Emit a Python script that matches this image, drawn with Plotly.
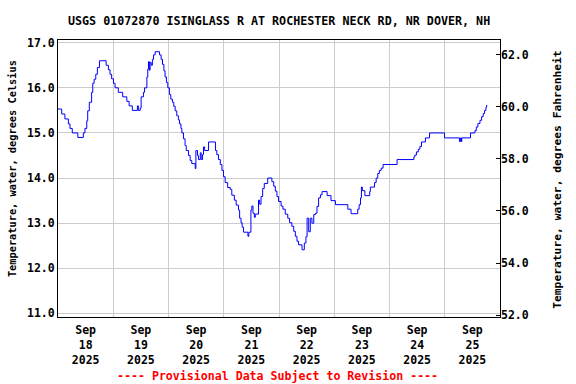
import pandas as pd
import plotly.graph_objects as go

# ---- data ----
start = pd.Timestamp("2025-09-18 00:00")
hours_since_start = [
    0.0, 1.6, 3.0, 4.5, 5.2, 6.2, 8.6, 11.0, 11.7, 12.5,
    12.9, 13.6, 14.6, 15.1, 15.7, 16.4, 17.1, 18.0, 20.9, 21.9,
    22.6, 23.3, 24.1, 24.8, 26.2, 28.1, 29.9, 30.9, 32.3, 34.5,
    34.9, 35.7, 36.1, 37.1, 37.6, 38.6, 39.0, 39.3, 39.7, 40.0,
    40.5, 41.0, 41.5, 42.2, 44.1, 44.8, 45.4, 46.0, 46.5, 47.1,
    47.7, 48.4, 49.0, 49.7, 50.3, 50.9, 51.6, 52.3, 52.8, 53.4,
    53.8, 54.5, 55.2, 55.7, 56.7, 57.4, 58.1, 59.6, 59.9, 60.6,
    61.0, 61.8, 62.2, 62.8, 63.2, 63.7, 65.4, 68.4, 69.0, 69.7,
    70.5, 71.2, 71.9, 72.6, 73.7, 74.8, 75.5, 76.6, 77.4, 78.4,
    78.9, 79.5, 80.0, 80.6, 82.5, 82.9, 83.8, 84.2, 84.7, 85.3,
    85.7, 87.1, 87.6, 88.2, 88.9, 89.6, 91.1, 92.9, 93.7, 94.4,
    95.1, 95.8, 96.9, 97.7, 98.7, 99.8, 100.6, 101.6, 102.4, 103.1,
    103.8, 104.5, 106.0, 107.0, 107.7, 108.2, 108.9, 109.6, 110.3, 111.1,
    111.8, 112.5, 113.2, 114.0, 114.7, 116.9, 118.6, 120.5, 125.9, 127.3,
    130.2, 130.8, 131.4, 131.8, 132.2, 133.3, 135.4, 135.7, 137.5, 138.2,
    138.9, 139.6, 140.4, 141.2, 147.3, 154.6, 155.0, 155.7, 156.5, 157.2,
    157.9, 159.6, 161.4, 167.9, 174.4, 174.9, 175.2, 175.4, 179.2, 181.1,
    181.7, 182.4, 183.3, 184.0, 184.7, 185.3, 185.9, 186.2,
]
temp_c = [
    15.53, 15.42, 15.31, 15.2, 15.1, 15.0, 14.9, 15.0, 15.1, 15.27,
    15.49, 15.68, 15.9, 16.1, 16.19, 16.3, 16.45, 16.6, 16.5, 16.4,
    16.3, 16.2, 16.1, 16.0, 15.9, 15.8, 15.7, 15.6, 15.5, 15.6,
    15.5, 15.55, 15.8, 15.9, 16.0, 16.24, 16.41, 16.58, 16.39, 16.56,
    16.5, 16.63, 16.73, 16.8, 16.73, 16.63, 16.52, 16.38, 16.24, 16.12,
    16.0, 15.85, 15.75, 15.68, 15.59, 15.49, 15.38, 15.29, 15.2, 15.1,
    15.0, 14.87, 14.72, 14.61, 14.5, 14.39, 14.32, 14.21, 14.61, 14.5,
    14.41, 14.56, 14.41, 14.52, 14.69, 14.61, 14.8, 14.61, 14.52, 14.41,
    14.3, 14.17, 14.03, 13.9, 13.79, 13.75, 13.62, 13.51, 13.4, 13.29,
    13.11, 13.01, 12.91, 12.8, 12.71, 12.8, 13.29, 13.38, 13.22, 13.13,
    13.2, 13.51, 13.42, 13.59, 13.77, 13.88, 14.0, 13.92, 13.82, 13.71,
    13.59, 13.48, 13.38, 13.31, 13.2, 13.11, 13.01, 12.93, 12.82, 12.71,
    12.6, 12.52, 12.41, 12.56, 12.7, 13.11, 12.81, 13.11, 13.0, 13.19,
    13.22, 13.37, 13.56, 13.63, 13.7, 13.61, 13.5, 13.41, 13.31, 13.21,
    13.31, 13.41, 13.56, 13.8, 13.72, 13.61, 13.7, 13.8, 13.9, 14.0,
    14.1, 14.17, 14.22, 14.3, 14.41, 14.47, 14.51, 14.58, 14.64, 14.7,
    14.8, 14.89, 15.0, 14.89, 14.81, 14.89, 14.81, 14.89, 15.0, 15.05,
    15.13, 15.21, 15.28, 15.36, 15.43, 15.5, 15.57, 15.62,
]

c_ticks = [11, 12, 13, 14, 15, 16, 17]
c_labels = ["11.0", "12.0", "13.0", "14.0", "15.0", "16.0", "17.0"]
f_ticks = [52, 54, 56, 58, 60, 62]
f_labels = ["52.0", "54.0", "56.0", "58.0", "60.0", "62.0"]
day_ticks = ["2025-09-18 12:00", "2025-09-19 12:00", "2025-09-20 12:00", "2025-09-21 12:00",
             "2025-09-22 12:00", "2025-09-23 12:00", "2025-09-24 12:00", "2025-09-25 12:00"]
day_labels = ["Sep<br>18<br>2025", "Sep<br>19<br>2025", "Sep<br>20<br>2025", "Sep<br>21<br>2025",
              "Sep<br>22<br>2025", "Sep<br>23<br>2025", "Sep<br>24<br>2025", "Sep<br>25<br>2025"]

title_text = "USGS 01072870 ISINGLASS R AT ROCHESTER NECK RD, NR DOVER, NH"
left_title = "Temperature, water, degrees Celsius"
right_title = "Temperature, water, degrees Fahrenheit"
footer_text = "---- Provisional Data Subject to Revision ----"

times = [start + pd.Timedelta(hours=h) for h in hours_since_start]
temp_f = [c * 1.8 + 32 for c in temp_c]

FONT = "DejaVu Sans Mono"
GRID = "#cccccc"

fig = go.Figure()
fig.add_trace(go.Scatter(x=times, y=temp_c, mode="lines",
                         line=dict(color="#0000ff", width=1, shape="hv"),
                         hoverinfo="skip", showlegend=False))
fig.add_trace(go.Scatter(x=times, y=temp_f, mode="lines", yaxis="y2",
                         line=dict(color="rgba(0,0,0,0)", width=0),
                         hoverinfo="skip", showlegend=False))

fig.update_layout(
    template="none",
    width=576, height=384,
    margin=dict(l=58, r=76, t=40, b=67),
    paper_bgcolor="white", plot_bgcolor="white",
    font=dict(family=FONT, size=11.5, color="black", weight="bold"),
    showlegend=False,
    xaxis=dict(
        type="date", automargin=False,
        range=["2025-09-18 00:00", "2025-09-26 00:00"],
        tickmode="array", tickvals=day_ticks, ticktext=day_labels,
        ticks="", showgrid=False, zeroline=False, ticklabelstandoff=2,
        showline=True, linecolor="black", linewidth=1, mirror=True,
        tickfont=dict(family=FONT, size=11.5, color="black", weight="bold"),
        minor=dict(dtick=86400000, tick0="2025-09-18", showgrid=True,
                   gridcolor=GRID, gridwidth=1, ticks=""),
    ),
    yaxis=dict(
        automargin=False,
        range=[10.92, 17.06],
        tickmode="array", tickvals=c_ticks, ticktext=c_labels,
        ticks="", showgrid=True, gridcolor=GRID, gridwidth=1, zeroline=False,
        showline=True, linecolor="black", linewidth=1, mirror=True,
        tickfont=dict(family=FONT, size=11.5, color="black", weight="bold"),
    ),
    yaxis2=dict(
        automargin=False,
        overlaying="y", side="right",
        range=[51.93, 62.56],
        tickmode="array", tickvals=f_ticks, ticktext=f_labels,
        ticks="inside", ticklen=4, tickcolor="black", tickwidth=1,
        showgrid=False, zeroline=False, showline=False,
        tickfont=dict(family=FONT, size=11.5, color="black", weight="bold"),
    ),
    annotations=[
        dict(text=title_text, xref="paper", yref="paper", x=0.5, y=1.0686,
             xanchor="center", yanchor="middle", showarrow=False,
             font=dict(family=FONT, size=11.7, color="black", weight="bold")),
        dict(text=left_title, xref="paper", yref="paper", x=-0.104, y=0.534,
             xanchor="center", yanchor="middle", showarrow=False, textangle=-90,
             font=dict(family=FONT, size=10.3, color="black", weight="bold")),
        dict(text=right_title, xref="paper", yref="paper", x=1.131, y=0.495,
             xanchor="center", yanchor="middle", showarrow=False, textangle=-90,
             font=dict(family=FONT, size=11.3, color="black", weight="bold")),
        dict(text=footer_text, xref="paper", yref="paper", x=0.4955, y=-0.212,
             xanchor="center", yanchor="middle", showarrow=False,
             font=dict(family=FONT, size=11.6, color="#ff0000", weight="bold")),
    ],
)

fig.write_html("out.html", config={"displayModeBar": False},
               post_script="document.body.style.margin='0';document.body.style.padding='0';")
